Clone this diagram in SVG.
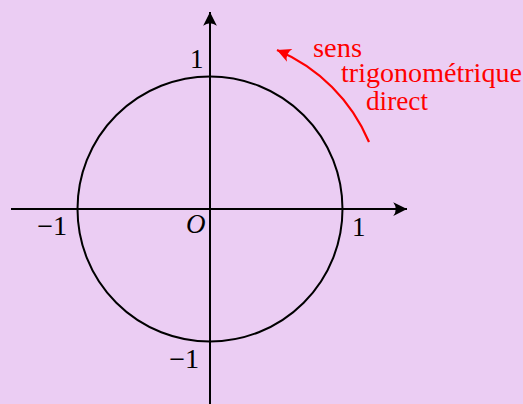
<svg xmlns="http://www.w3.org/2000/svg" width="523" height="404" viewBox="0 0 523 404">
<defs>
<style>
.ax{fill:none;stroke:#000;stroke-width:2}
.t{font-family:"Liberation Serif","DejaVu Serif",serif;font-size:27px;fill:#000}
.r{font-family:"Liberation Serif","DejaVu Serif",serif;font-size:27px;fill:#FF0000}
</style>
<marker id="ab" markerUnits="userSpaceOnUse" markerWidth="20" markerHeight="20" viewBox="-12 -8 14 16" refX="0" refY="0" orient="auto">
<path d="M0,0 L-11,-5.5 Q-7,0 -11,5.5 Z" fill="#000"/>
</marker>
<marker id="ar" markerUnits="userSpaceOnUse" markerWidth="20" markerHeight="20" viewBox="-12 -8 14 16" refX="0" refY="0" orient="auto">
<path d="M0,0 L-11,-5.5 Q-7,0 -11,5.5 Z" fill="#FF0000"/>
</marker>
</defs>
<rect width="523" height="404" fill="#EBCDF3"/>
<g id="connectors">
<line class="ax" x1="11" y1="209" x2="407" y2="209" marker-end="url(#ab)"/>
<line class="ax" x1="210" y1="404" x2="210" y2="12" marker-end="url(#ab)"/>
<path d="M369,142 A173,173 0 0 0 277,50" fill="none" stroke="#FF0000" stroke-width="2.2" marker-end="url(#ar)"/>
</g>
<g id="circle">
<circle cx="210" cy="209" r="132.5" fill="none" stroke="#000" stroke-width="2"/>
</g>
<g id="labels">
<text class="t" x="190" y="68">1</text>
<text class="t" x="37" y="235" textLength="30" lengthAdjust="spacingAndGlyphs">−1</text>
<text class="t" x="186" y="233" font-style="italic">O</text>
<text class="t" x="352" y="236">1</text>
<text class="t" x="169" y="368" textLength="30" lengthAdjust="spacingAndGlyphs">−1</text>
</g>
<g id="note">
<text class="r" x="313" y="57" textLength="49" lengthAdjust="spacingAndGlyphs">sens</text>
<text class="r" x="341" y="82" textLength="181" lengthAdjust="spacingAndGlyphs">trigonométrique</text>
<text class="r" x="366" y="110" textLength="62" lengthAdjust="spacingAndGlyphs">direct</text>
</g>
</svg>
